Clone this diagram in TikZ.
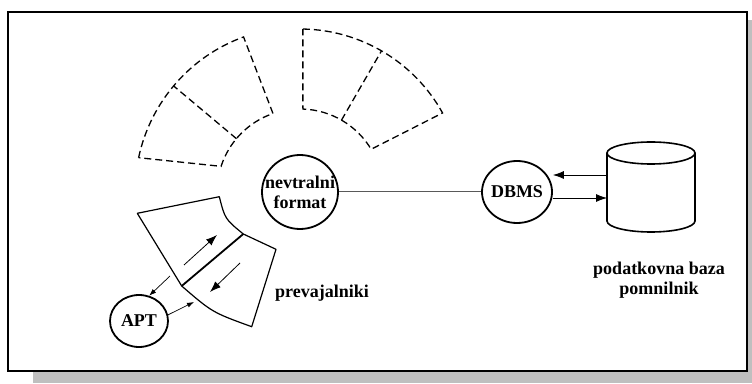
\documentclass[tikz,border=0pt]{standalone}
\usepackage{fontspec}
\setmainfont{Liberation Serif}
\usetikzlibrary{arrows.meta,shapes.geometric}
\begin{document}
\begin{tikzpicture}[x=1pt,y=1pt,
  hub/.style={ellipse, draw, line width=1.8pt, inner sep=0pt},
  txt/.style={font=\bfseries\fontsize{18}{20}\selectfont, align=center, inner sep=0pt},
  cell/.style={line width=1.2pt, line join=round},
  ghost/.style={line width=1.3pt, dash pattern=on 7pt off 4pt},
  flow/.style={-{Latex[length=11pt,width=8pt]}, line width=0.8pt},
  smallflow/.style={-{Latex[length=7pt,width=5pt]}, line width=0.7pt},
  link/.style={draw=black!65, line width=1pt}]
\useasboundingbox (0,0) rectangle (752,383);
% drop shadow and frame
\fill[black!25] (33,0) rectangle (752,363);
\draw[line width=1.6pt, fill=white] (8,12) rectangle (747,371);

% hubs
\node[hub, minimum width=76pt, minimum height=74pt] (nf) at (300,191) {};
\node[txt] at (nf) {nevtralni\\format};
\node[hub, minimum width=70pt, minimum height=62pt] (dbms) at (517,191) {};
\node[txt] at (dbms) {DBMS};
\node[hub, minimum width=58pt, minimum height=52pt] (apt) at (139,62) {};
\node[txt] at (apt) {APT};

\draw[link] (nf) -- (dbms);

% storage cylinder
\node[minimum width=90pt, minimum height=90pt, inner sep=0pt] (db) at (652,196) {};
\draw[line width=1.6pt] (607,230) -- (607,162)
  arc[start angle=180, end angle=360, x radius=44, y radius=11] -- (695,230);
\draw[line width=1.6pt] (651,230) ellipse[x radius=44, y radius=11];
\node[txt] (dbtext) at (659,103) {podatkovna baza\\pomnilnik};

\coordinate (u1) at (607,208);
\coordinate (u2) at (607,185);
\draw[flow] (u1) -- (dbms.east |- u1);
\draw[flow] (dbms.east |- u2) -- (u2);

% inactive translators (dashed)
\draw[ghost] ([shift={(168:165)}]nf.center) arc[start angle=168, end angle=110, radius=165]
  -- ([shift={(109:83)}]nf.center) arc[start angle=109, end angle=162, radius=83] -- cycle;
\draw[ghost] ([shift={(140:83)}]nf.center) -- ([shift={(140:165)}]nf.center);
\draw[ghost] ([shift={(89:163)}]nf.center) arc[start angle=89, end angle=29, radius=163]
  -- ([shift={(31:83)}]nf.center) arc[start angle=31, end angle=88, radius=83] -- cycle;
\draw[ghost] ([shift={(60:83)}]nf.center) -- ([shift={(60:163)}]nf.center);

% active translator
\coordinate (p1) at (137.3,169.7);
\coordinate (p2) at (219.3,186.3);
\coordinate (p3) at (243.3,149);
\coordinate (p4) at (276,133.7);
\coordinate (p5) at (251.7,56.3);
\coordinate (p6) at (181.7,97);
\draw[cell] (p1) -- (p2) .. controls (225,164) .. (p3) -- (p4) -- (p5)
  .. controls (212.3,70.6) .. (p6) -- cycle;
\draw[line width=1.8pt] (p3) -- (p6);
\node[txt] (tr) at (322,90) {prevajalniki};

\coordinate (a1) at (184,118);
\coordinate (a2) at (217,148);
\coordinate (b1) at (240,120);
\coordinate (b2) at (210,91);
\draw[flow] (a1) -- (a2);
\draw[flow] (b1) -- (b2);

\coordinate (t1) at (170,107);
\coordinate (t2) at (194,81);
\draw[smallflow] (t1) -- (apt.68);
\draw[smallflow] (apt.12) -- (t2);
\end{tikzpicture}
\end{document}
